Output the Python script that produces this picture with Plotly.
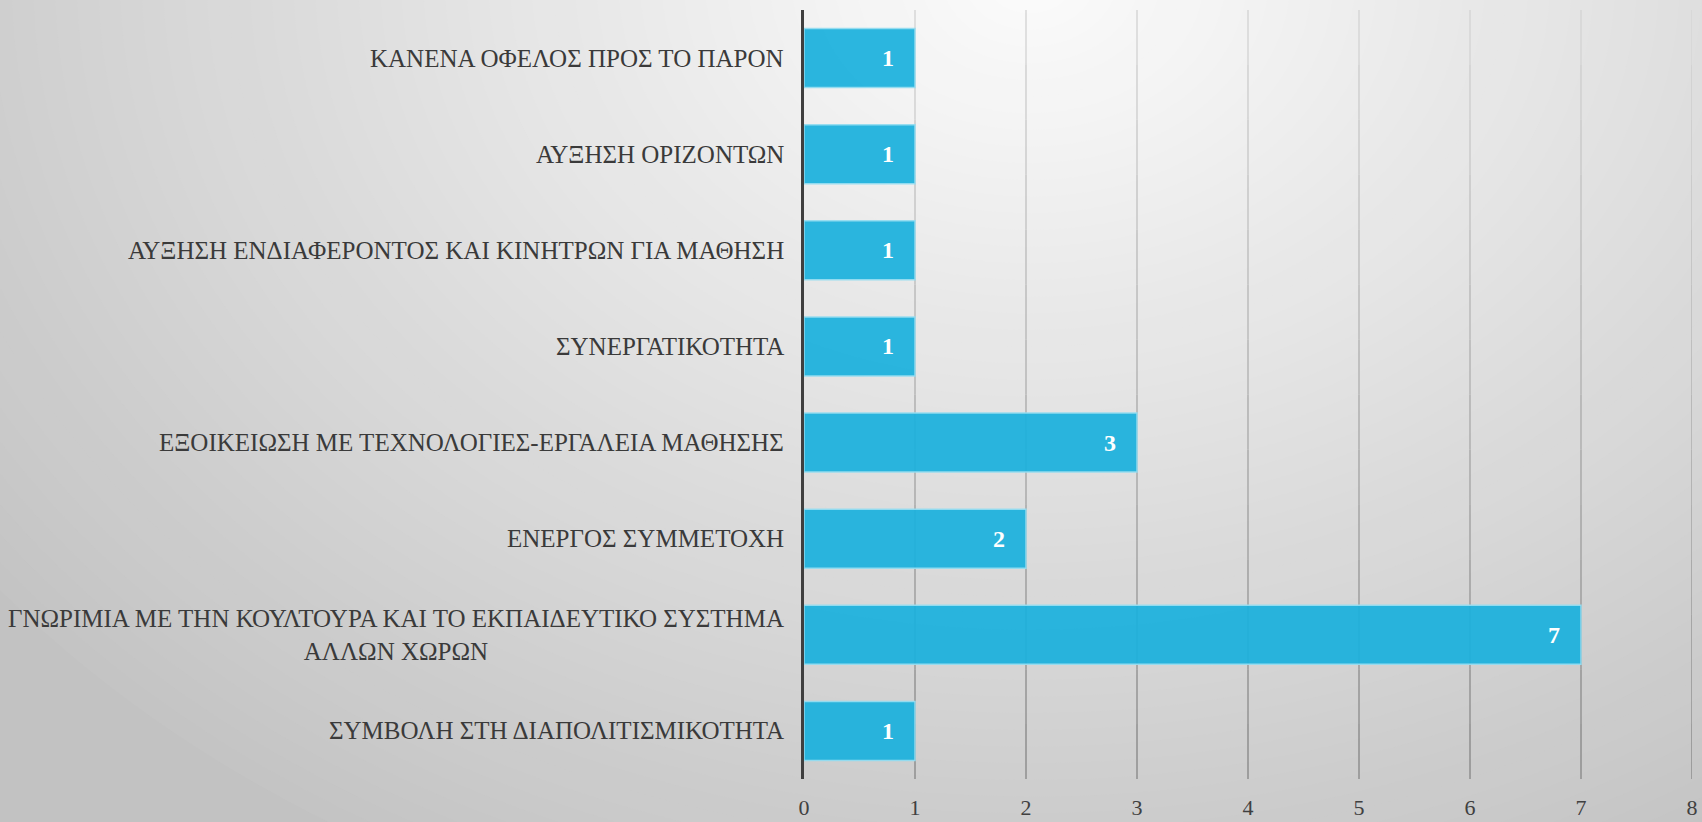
import plotly.graph_objects as go

# ---- data (bottom to top, as Plotly draws horizontal categories) ----
categories = [
    "ΣΥΜΒΟΛΗ ΣΤΗ ΔΙΑΠΟΛΙΤΙΣΜΙΚΟΤΗΤΑ",
    "ΓΝΩΡΙΜΙΑ ΜΕ ΤΗΝ ΚΟΥΛΤΟΥΡΑ ΚΑΙ ΤΟ ΕΚΠΑΙΔΕΥΤΙΚΟ ΣΥΣΤΗΜΑ<br>ΑΛΛΩΝ ΧΩΡΩΝ",
    "ΕΝΕΡΓΟΣ ΣΥΜΜΕΤΟΧΗ",
    "ΕΞΟΙΚΕΙΩΣΗ ΜΕ ΤΕΧΝΟΛΟΓΙΕΣ-ΕΡΓΑΛΕΙΑ ΜΑΘΗΣΗΣ",
    "ΣΥΝΕΡΓΑΤΙΚΟΤΗΤΑ",
    "ΑΥΞΗΣΗ ΕΝΔΙΑΦΕΡΟΝΤΟΣ ΚΑΙ ΚΙΝΗΤΡΩΝ ΓΙΑ ΜΑΘΗΣΗ",
    "ΑΥΞΗΣΗ ΟΡΙΖΟΝΤΩΝ",
    "ΚΑΝΕΝΑ ΟΦΕΛΟΣ ΠΡΟΣ ΤΟ ΠΑΡΟΝ",
]
values = [1, 7, 2, 3, 1, 1, 1, 1]
x_ticks = [0, 1, 2, 3, 4, 5, 6, 7, 8]

# ---- geometry / style ----
W, H = 1702, 822
PLOT_L, PLOT_R = 804, 1692
PLOT_T, PLOT_B = 10, 779
SERIF = "Liberation Serif"

fig = go.Figure()
fig.add_trace(go.Bar(
    y=categories,
    x=values,
    orientation="h",
    marker=dict(color="rgba(27,176,221,0.93)",
                line=dict(color="rgba(150,220,240,0.95)", width=1.5)),
    texttemplate="%{x}\u00a0\u00a0\u00a0",
    textposition="inside",
    insidetextanchor="end",
    textangle=0,
    textfont=dict(family=SERIF, size=24, color="white", weight="bold"),
    hoverinfo="skip",
))

shapes = []
# background: soft elliptical gradient, light at top centre, grey at the edges
cx, cy = 1030.0, -20.0
rx, ry = 1300.0, 1000.0
N = 60
for k in range(N):
    t = 1.0 - k / N
    g = int(round(252 - 56 * t))
    shapes.append(dict(
        type="circle", xref="paper", yref="paper", layer="below",
        x0=(cx - rx * t) / W, x1=(cx + rx * t) / W,
        y0=1 - (cy + ry * t) / H, y1=1 - (cy - ry * t) / H,
        fillcolor=f"rgb({g},{g},{g})", line=dict(width=0),
    ))
# vertical gridlines, lighter towards the top
SEG = 14
for v in x_ticks[1:]:
    for s in range(SEG):
        f = (s + 0.5) / SEG
        g = int(round(135 + (215 - 135) * f))
        shapes.append(dict(
            type="line", xref="x", yref="y domain", layer="below",
            x0=v, x1=v, y0=s / SEG, y1=(s + 1) / SEG,
            line=dict(color=f"rgb({g},{g},{g})", width=1.4),
        ))

annotations = []
for c in categories:
    annotations.append(dict(
        x=0, y=c, xref="x", yref="y", xanchor="right", yanchor="middle",
        xshift=-18, showarrow=False, align="center", text=c,
        font=dict(family=SERIF, size=25, color="#3a3a3a"),
    ))

fig.update_layout(
    width=W, height=H, autosize=False,
    margin=dict(l=0, r=0, t=0, b=0, pad=0, autoexpand=False),
    paper_bgcolor="rgb(194,194,194)",
    plot_bgcolor="rgba(0,0,0,0)",
    showlegend=False,
    bargap=0.385,
    font=dict(family=SERIF),
    shapes=shapes,
    annotations=annotations,
    xaxis=dict(
        domain=[PLOT_L / W, PLOT_R / W],
        range=[0, 8], tickvals=x_ticks, ticktext=[str(t) for t in x_ticks],
        showgrid=False, zeroline=False, showline=False,
        ticks="outside", ticklen=9, tickcolor="rgba(0,0,0,0)",
        tickfont=dict(family=SERIF, size=22, color="#404040"),
        automargin=False, fixedrange=True,
    ),
    yaxis=dict(
        domain=[1 - PLOT_B / H, 1 - PLOT_T / H],
        type="category", categoryorder="array", categoryarray=categories,
        showticklabels=False, showgrid=False, zeroline=False,
        showline=True, linecolor="#3f3f3f", linewidth=3, ticks="",
        automargin=False, fixedrange=True,
    ),
)

fig.write_html(
    "out.html",
    config={"displayModeBar": False},
    post_script="document.body.style.margin='0';document.body.style.overflow='hidden';",
)
